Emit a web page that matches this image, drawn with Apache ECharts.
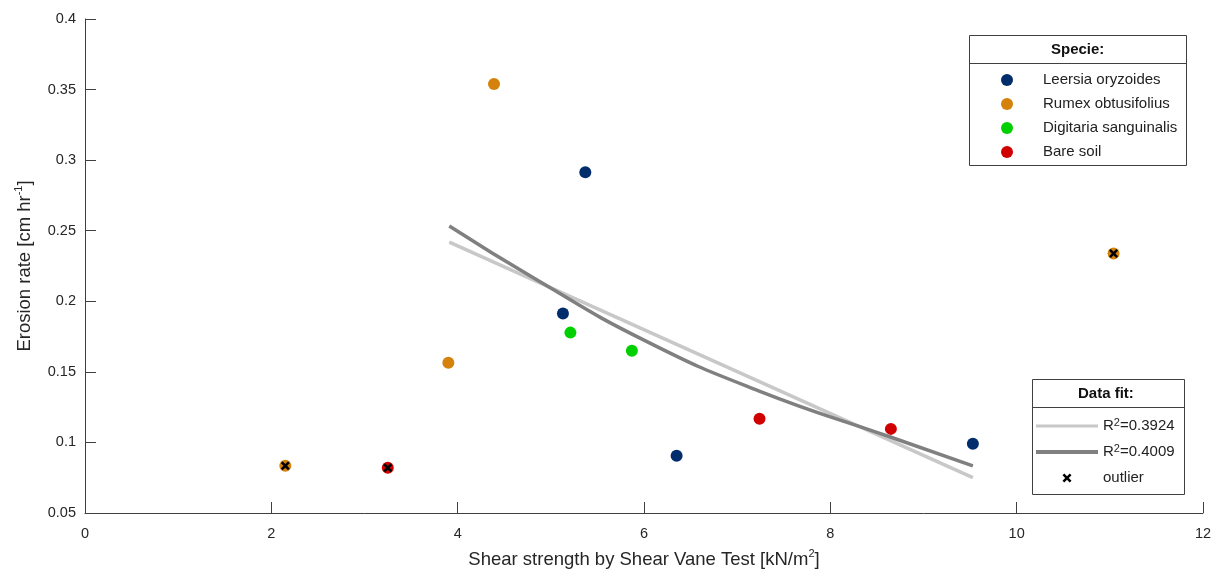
<!DOCTYPE html>
<html>
<head>
<meta charset="utf-8">
<title>Erosion rate vs shear strength</title>
<script src="https://cdn.jsdelivr.net/npm/echarts@6/dist/echarts.min.js"></script>
<style>
    html, body { margin: 0; padding: 0; background: #fff; }
    #scatter { width: 1220px; height: 580px; }
</style>
</head>
<body>
<div id="scatter"></div>
<script>
// species points [shear strength, erosion rate]
var leersia = [[5.37, 0.2914], [5.13, 0.1913], [6.35, 0.0905], [9.53, 0.0990]];
var rumex = [[4.39, 0.3539], [3.90, 0.1565], [2.15, 0.0834], [11.04, 0.2339]];
var digitaria = [[5.21, 0.1778], [5.87, 0.1650]];
var bareSoil = [[7.24, 0.1167], [8.65, 0.1096], [3.25, 0.0820]];
var outliers = [[2.15, 0.0834], [3.25, 0.0820], [11.04, 0.2339]];

// fit curves
var fitLinear = [[3.91, 0.2419], [9.53, 0.0751]];
var fitCurve = [[3.91, 0.2533], [4.83, 0.2159], [6.01, 0.1721], [7.23, 0.1366], [8.66, 0.1035], [9.53, 0.0834]];

var speciesNames = ['Leersia oryzoides', 'Rumex obtusifolius', 'Digitaria sanguinalis', 'Bare soil'];
var fitNames = ['R2=0.3924', 'R2=0.4009', 'outlier'];
var colors = ['#012d6c', '#d4820c', '#00d000', '#d00000'];

var font = '"Liberation Sans", Arial, sans-serif';
var xMark = 'path://M0,2 L2,0 L5,3 L8,0 L10,2 L7,5 L10,8 L8,10 L5,7 L2,10 L0,8 L3,5 Z';
var supStyle = { fontSize: 11, lineHeight: 11, verticalAlign: 'top', fontFamily: font, color: '#262626' };

var chart = echarts.init(document.getElementById('scatter'));
scatters();
function scatters(){
    let option = {
        animation: false,
        textStyle: { fontFamily: font },
        grid: { left: 85, right: 17, top: 19, bottom: 67 },
        xAxis: {
            type: 'value',
            min: 0,
            max: 12,
            interval: 2,
            name: 'Shear strength by Shear Vane Test [kN/m{sup|2}]',
            nameLocation: 'middle',
            nameGap: 35,
            nameTextStyle: { fontSize: 18.5, color: '#262626', lineHeight: 23, rich: { sup: supStyle } },
            axisLine: { lineStyle: { color: '#404040', width: 1 } },
            axisTick: { inside: true, length: 11, lineStyle: { color: '#404040' } },
            axisLabel: { fontSize: 14.5, color: '#262626', margin: 13 },
            splitLine: { show: false }
        },
        yAxis: {
            type: 'value',
            min: 0.05,
            max: 0.4,
            interval: 0.05,
            name: 'Erosion rate [cm hr{sup|-1}]',
            nameLocation: 'middle',
            nameGap: 44,
            nameTextStyle: { fontSize: 18.5, color: '#262626', lineHeight: 23, rich: { sup: supStyle } },
            axisLine: { show: true, lineStyle: { color: '#404040', width: 1 } },
            axisTick: { show: true, inside: true, length: 11, lineStyle: { color: '#404040' } },
            axisLabel: {
                fontSize: 14.5, color: '#262626', margin: 9,
                formatter: function (v) { return String(parseFloat(v.toFixed(2))); }
            },
            splitLine: { show: false }
        },
        legend: [
            {
                orient: 'vertical',
                left: 1001,
                top: 72,
                padding: 0,
                itemWidth: 12,
                itemHeight: 12,
                itemGap: 8,
                icon: 'circle',
                data: speciesNames,
                textStyle: { fontSize: 15, color: '#222', lineHeight: 16, padding: [0, 0, 0, 25] }
            },
            {
                orient: 'vertical',
                left: 1036,
                top: 417,
                padding: 0,
                itemWidth: 62,
                itemHeight: 9,
                itemGap: 8,
                data: [
                    { name: fitNames[0], icon: 'path://M0,0H62V3H0Z' },
                    { name: fitNames[1], icon: 'path://M0,0H62V4H0Z' },
                    { name: fitNames[2] }
                ],
                formatter: function (name) { return name.replace('R2', 'R{sup|2}'); },
                textStyle: { fontSize: 15, color: '#222', lineHeight: 18, rich: { sup: supStyle } }
            }
        ],
        graphic: [
            { type: 'rect', shape: { x: 969.5, y: 35.5, width: 217, height: 130 }, style: { fill: 'none', stroke: '#404040', lineWidth: 1 }, z: 1 },
            { type: 'line', shape: { x1: 969.5, y1: 63.5, x2: 1186.5, y2: 63.5 }, style: { stroke: '#404040', lineWidth: 1 }, z: 1 },
            { type: 'text', left: 1051, top: 42, style: { text: 'Specie:', font: 'bold 15px ' + font, fill: '#111' } },
            { type: 'rect', shape: { x: 1032.5, y: 379.5, width: 152, height: 115 }, style: { fill: 'none', stroke: '#404040', lineWidth: 1 }, z: 1 },
            { type: 'line', shape: { x1: 1032.5, y1: 407.5, x2: 1184.5, y2: 407.5 }, style: { stroke: '#404040', lineWidth: 1 }, z: 1 },
            { type: 'text', left: 1078, top: 386, style: { text: 'Data fit:', font: 'bold 15px ' + font, fill: '#111' } }
        ],
        series: [
            { name: speciesNames[0], type: 'scatter', symbolSize: 12, data: leersia, itemStyle: { color: colors[0], opacity: 1 } },
            { name: speciesNames[1], type: 'scatter', symbolSize: 12, data: rumex, itemStyle: { color: colors[1], opacity: 1 } },
            { name: speciesNames[2], type: 'scatter', symbolSize: 12, data: digitaria, itemStyle: { color: colors[2], opacity: 1 } },
            { name: speciesNames[3], type: 'scatter', symbolSize: 12, data: bareSoil, itemStyle: { color: colors[3], opacity: 1 } },
            {
                name: fitNames[0], type: 'line', data: fitLinear, symbol: 'none',
                lineStyle: { color: '#c8c8c8', width: 3.5 }, itemStyle: { color: '#c8c8c8' }
            },
            {
                name: fitNames[1], type: 'line', data: fitCurve, symbol: 'none', smooth: true,
                lineStyle: { color: '#808080', width: 3.5 }, itemStyle: { color: '#808080' }
            },
            {
                name: fitNames[2], type: 'scatter', symbol: xMark, symbolSize: 9, data: outliers,
                itemStyle: { color: '#000', opacity: 1 }, z: 5
            }
        ]
    };
    chart.setOption(option);
}
</script>
</body>
</html>
